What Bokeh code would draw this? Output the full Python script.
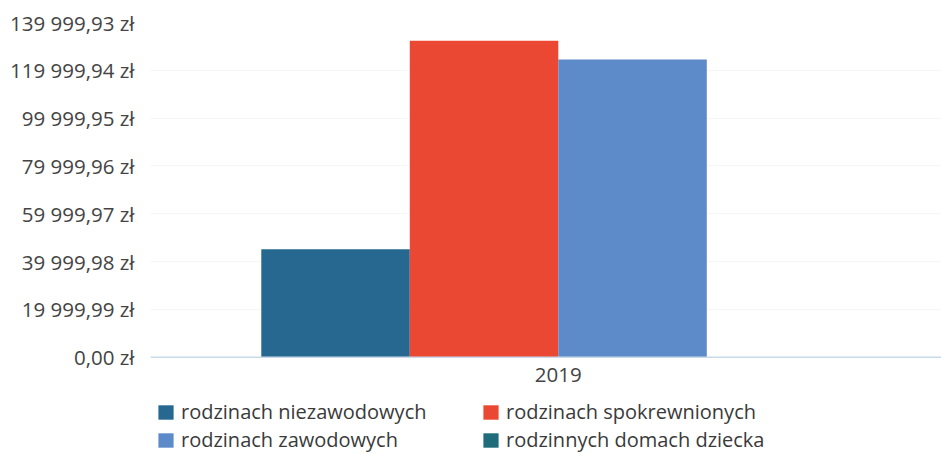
from bokeh.plotting import figure
from bokeh.models import ColumnDataSource, Range1d, FixedTicker, Legend, LegendItem, Span
from bokeh.transform import dodge
from bokeh.core.properties import value
from bokeh.embed import file_html
from bokeh.resources import INLINE

years = ["2019"]
series = ["rodzinach niezawodowych", "rodzinach spokrewnionych",
          "rodzinach zawodowych", "rodzinnych domach dziecka"]
values_niezawodowych = [45200]
values_spokrewnionych = [132400]
values_zawodowych = [124500]
values_domach_dziecka = [0]
colors = ["#276890", "#eb4833", "#5d8ac8", "#1f6c7a"]
y_ticks = [0.0, 19999.99, 39999.98, 59999.97, 79999.96, 99999.95, 119999.94, 139999.93]
y_tick_labels = ["0,00 zł", "19 999,99 zł", "39 999,98 zł", "59 999,97 zł",
                 "79 999,96 zł", "99 999,95 zł", "119 999,94 zł", "139 999,93 zł"]

FONT = "Open Sans"
FS = "20.5px"
LFS = "20px"

src = ColumnDataSource(dict(
    x=list(range(len(years))),
    label=years,
    s0=values_niezawodowych,
    s1=values_spokrewnionych,
    s2=values_zawodowych,
    s3=values_domach_dziecka,
))

p = figure(width=941, height=454, output_backend="svg", toolbar_location=None,
           x_range=Range1d(-0.5492, 0.5161), y_range=Range1d(-40659, 139999.93),
           x_axis_location=None,
           min_border_left=150, min_border_right=0, min_border_top=22,
           min_border_bottom=0)
p.outline_line_color = None
p.background_fill_color = "white"
p.border_fill_color = "white"
p.xgrid.grid_line_color = None
p.ygrid.grid_line_color = "#f6f6f6"
p.ygrid.ticker = FixedTicker(ticks=y_ticks[1:])

w = 0.2
offsets = [-0.3, -0.1, 0.1, 0.3]
cols = ["s0", "s1", "s2", "s3"]
renderers = []
for col, off, c in zip(cols, offsets, colors):
    r = p.vbar(x=dodge("x", off), top=col, bottom=0, width=w, source=src,
               fill_color=c, line_color=None)
    renderers.append(r)

# baseline (x axis line)
p.add_layout(Span(location=0, dimension="width", line_color="#c9d9ea", line_width=1.5))

# category label
p.text(x="x", y=0, text="label", source=src, text_align="center",
       text_baseline="top", y_offset=11, text_font=value(FONT),
       text_font_size=FS, text_color="#444444")

# y axis
p.yaxis.ticker = FixedTicker(ticks=y_ticks)
p.yaxis.major_label_overrides = {t: l for t, l in zip(y_ticks, y_tick_labels)}
p.yaxis.axis_line_color = None
p.yaxis.major_tick_line_color = None
p.yaxis.minor_tick_line_color = None
p.yaxis.major_label_standoff = 10
p.yaxis.major_label_text_font = FONT
p.yaxis.major_label_text_font_size = FS
p.yaxis.major_label_text_color = "#444444"

# legend: 2 columns x 2 rows, one Legend per entry for exact placement
legend_pos = [(6, 29), (331, 29), (6, 1), (331, 1)]
for i, loc in enumerate(legend_pos):
    lg = Legend(items=[LegendItem(label=series[i], renderers=[renderers[i]])],
                location=loc, margin=0, padding=0,
                glyph_width=19, glyph_height=18, label_height=18,
                label_standoff=6, border_line_color=None,
                label_text_font=FONT, label_text_font_size=LFS,
                label_text_color="#3a3a3a", background_fill_alpha=0)
    p.add_layout(lg)

open("out.html", "w").write(file_html(p, INLINE))
